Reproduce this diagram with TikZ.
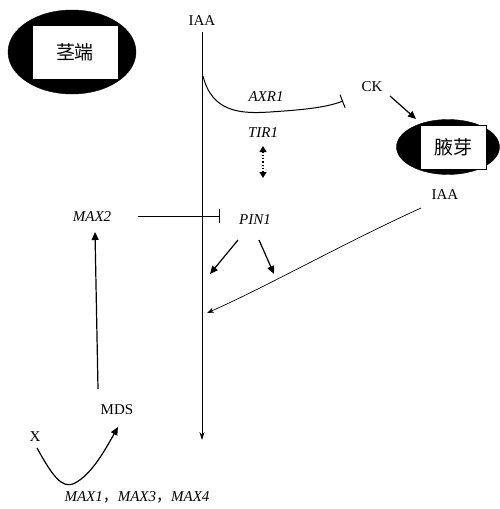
\documentclass[tikz,border=0pt]{standalone}
\usepackage{fontspec}
\setmainfont{Liberation Serif}
\newfontfamily\cjk{Noto Sans CJK SC}
\usetikzlibrary{arrows.meta,shapes.geometric}
\begin{document}
\begin{tikzpicture}[x=1pt,y=-1pt,
  lbl/.style={font=\fontsize{15}{17}\selectfont, inner sep=1pt},
  gene/.style={font=\fontsize{15}{17}\selectfont\itshape, inner sep=1pt},
  blob/.style={ellipse, fill=black, draw=black},
  box/.style={fill=white, draw=black, line width=0.8pt, font=\fontsize{19}{21}\selectfont\cjk},
  arr/.style={-{Triangle[length=8pt,width=7pt]}, line width=1.2pt},
  thin/.style={line width=0.7pt},
  inhib/.style={-{Bar[width=14pt]}, line width=1pt}]
\useasboundingbox (0,0) rectangle (500,509);
% stem tip
\node[blob, minimum width=128, minimum height=84] (stemE) at (72,52) {};
\node[box, minimum width=86, minimum height=54] (stem) at (75,52) {茎端};
% bud
\node[blob, minimum width=103, minimum height=55] (budE) at (448,147) {};
\node[box, minimum width=66, minimum height=44] (bud) at (453,147) {腋芽};
% labels
\node[lbl] (iaaTop) at (202,21) {IAA};
\node[lbl] (ck) at (372,87) {CK};
\node[gene] (axr) at (266,97) {AXR1};
\node[gene] (tir) at (263,133) {TIR1};
\node[lbl] (iaaBud) at (445,195) {IAA};
\node[gene] (pin) at (255,220) {PIN1};
\node[gene] (max2) at (92,217) {MAX2};
\node[lbl] (mds) at (117,410) {MDS};
\node[lbl] (x) at (35,437) {X};
\node[gene] (max) at (137,497) {MAX1{\upshape\cjk ，}MAX3{\upshape\cjk ，}MAX4};
% main axis
\coordinate (axTop) at (202,32);
\coordinate (axBot) at (202,440);
\draw[thin, -{Stealth[length=8pt,width=5pt]}] (axTop) -- (axBot);
% AXR1 inhibition
\coordinate (c0) at (203,76);
\coordinate (c1) at (343,101);
\draw[inhib] (c0) .. controls (212,112) and (240,114) .. (270,112) .. controls (300,110) and (325,108) .. (c1);
% CK -> bud
\coordinate (ckS) at (390,96);
\coordinate (budIn) at (416,119);
\draw[arr] (ckS) -- (budIn);
% TIR1 <-> PIN1 dotted
\coordinate (t1) at (263,146);
\coordinate (t2) at (263,178);
\draw[{Triangle[length=6pt,width=7pt]}-{Triangle[length=6pt,width=7pt]}, dotted, line width=1.2pt] (t1) -- (t2);
% MAX2 -| PIN1
\coordinate (m2e) at (138,216);
\coordinate (pinBar) at (220,216);
\draw[inhib, line width=0.9pt] (m2e) -- (pinBar);
% PIN1 arrows
\coordinate (p1) at (238,240);
\coordinate (p1e) at (210,274);
\coordinate (p2) at (259,240);
\coordinate (p2e) at (274,274);
\draw[arr] (p1) -- (p1e);
\draw[arr] (p2) -- (p2e);
% IAA from bud
\coordinate (ib) at (421,208);
\coordinate (ibe) at (207,313);
\draw[thin, -{Stealth[length=7pt,width=5pt]}] (ib) .. controls (340,245) and (270,285) .. (ibe);
% MDS -> MAX2
\coordinate (mdsTop) at (98,389);
\coordinate (max2Bot) at (95,232);
\draw[arr] (mdsTop) -- (max2Bot);
% X -> MDS
\coordinate (xs) at (37,448);
\coordinate (mdsIn) at (118,427);
\draw[arr] (xs) .. controls (52,475) and (62,490) .. (75,483) .. controls (92,474) and (105,450) .. (mdsIn);
\end{tikzpicture}
\end{document}
